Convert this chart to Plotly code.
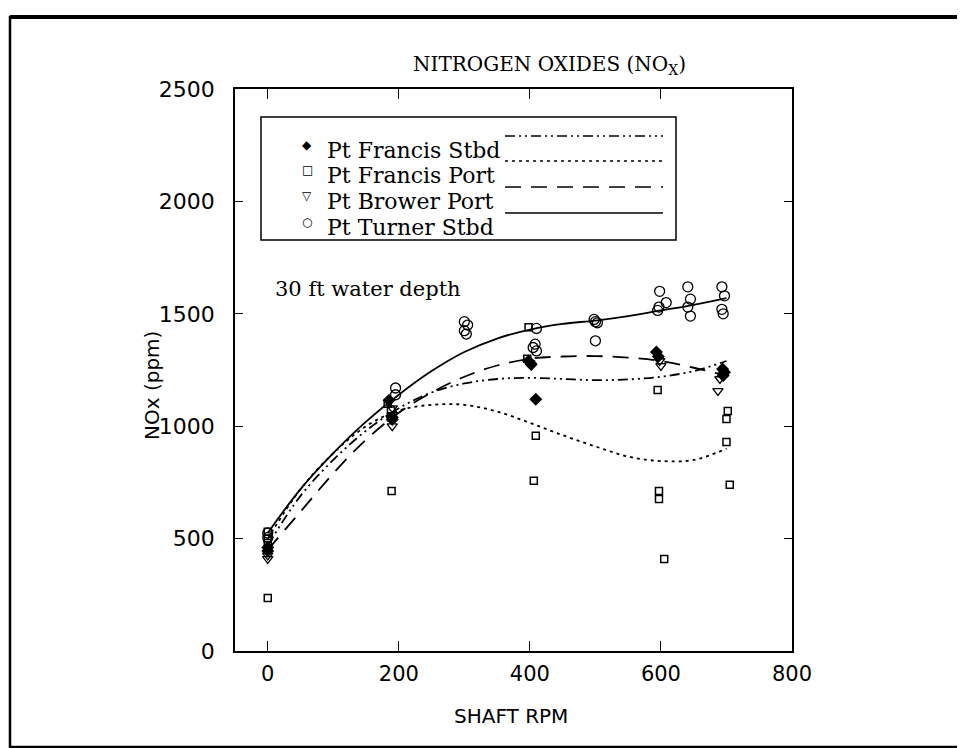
import plotly.graph_objects as go

# Pt Turner Stbd (open circles)
turner_rpm = [0, 0, 195, 195, 300, 305, 300, 303, 410, 408, 405, 410,
              498, 500, 503, 500, 595, 597, 598, 608, 641, 645, 641, 645,
              693, 697, 693, 695]
turner_nox = [525, 505, 1170, 1140, 1465, 1450, 1425, 1410, 1435, 1365, 1350, 1335,
              1475, 1465, 1460, 1380, 1515, 1530, 1600, 1550, 1620, 1565, 1530, 1490,
              1620, 1580, 1520, 1500]

# Pt Francis Stbd (filled diamonds)
fstbd_rpm = [0, 0, 185, 190, 190, 398, 402, 409, 593, 596, 694, 697, 695]
fstbd_nox = [460, 445, 1115, 1040, 1030, 1290, 1275, 1120, 1330, 1310, 1255, 1240, 1225]

# Pt Francis Port (open squares)
fport_rpm = [0, 0, 0, 0, 183, 188, 188, 189, 398, 396, 409, 406,
             595, 597, 597, 605, 702, 700, 700, 705]
fport_nox = [530, 500, 480, 236, 1100, 1070, 1040, 712, 1440, 1300, 957, 757,
             1161, 712, 676, 409, 1068, 1032, 930, 739]

# Pt Brower Port (open down triangles)
brower_rpm = [0, 0, 190, 190, 190, 400, 402, 600, 598, 690, 687]
brower_nox = [410, 425, 1080, 1050, 1000, 1280, 1270, 1268, 1290, 1210, 1157]

# fitted curves
curve_rpm = [0, 50, 100, 150, 200, 250, 300, 350, 400, 450, 500, 550, 600, 650, 700]
turner_fit = [525, 720, 880, 1020, 1140, 1245, 1330, 1390, 1430, 1455, 1470, 1490, 1515, 1540, 1570]
fstbd_fit = [470, 690, 850, 980, 1080, 1150, 1190, 1210, 1215, 1210, 1205, 1208, 1220, 1245, 1290]
fport_fit = [500, 720, 880, 1000, 1070, 1095, 1095, 1065, 1015, 960, 910, 865, 845, 850, 900]
brower_fit = [450, 620, 790, 940, 1060, 1150, 1220, 1270, 1300, 1310, 1312, 1305, 1290, 1260, 1225]

legend_names = ['Pt Francis Stbd', 'Pt Francis Port', 'Pt Brower Port', 'Pt Turner Stbd']
legend_glyphs = ['\u25c6', '\u25a1', '\u25bd', '\u25cb']
legend_dashes = ['10px,4px,2px,4px,2px,4px', '3px,4px', '16px,10px', 'solid']

serif = 'DejaVu Serif'
sans = 'DejaVu Sans'

fig = go.Figure()

fits = [fstbd_fit, fport_fit, brower_fit, turner_fit]
for fit, dash in zip(fits, legend_dashes):
    fig.add_trace(go.Scatter(x=curve_rpm, y=fit, mode='lines', line_shape='spline',
                             line=dict(color='black', width=1.8, dash=dash),
                             showlegend=False, hoverinfo='skip'))

fig.add_trace(go.Scatter(x=fport_rpm, y=fport_nox, mode='markers', showlegend=False,
                         marker=dict(symbol='square-open', size=7, color='black',
                                     line=dict(width=1.5))))
fig.add_trace(go.Scatter(x=brower_rpm, y=brower_nox, mode='markers', showlegend=False,
                         marker=dict(symbol='triangle-down-open', size=9, color='black',
                                     line=dict(width=1.3))))
fig.add_trace(go.Scatter(x=turner_rpm, y=turner_nox, mode='markers', showlegend=False,
                         marker=dict(symbol='circle-open', size=10, color='black',
                                     line=dict(width=1.3))))
fig.add_trace(go.Scatter(x=fstbd_rpm, y=fstbd_nox, mode='markers', showlegend=False,
                         marker=dict(symbol='diamond', size=10, color='black')))

# plot area in pixels: x 227..784, y 81..643
L, R, T, B = 227, 784, 81, 643


def px(x):
    return (x - L) / (R - L)


def py(y):
    return (B - y) / (B - T)


shapes = []
# outer border of the figure, heavier along the top
shapes.append(dict(type='rect', xref='paper', yref='paper',
                   x0=px(2), x1=px(960), y0=py(739), y1=py(9),
                   line=dict(color='black', width=2.5)))
shapes.append(dict(type='line', xref='paper', yref='paper',
                   x0=px(2), x1=px(960), y0=py(9), y1=py(9),
                   line=dict(color='black', width=4)))
# legend box
shapes.append(dict(type='rect', xref='paper', yref='paper',
                   x0=px(253), x1=px(668), y0=py(232), y1=py(109),
                   line=dict(color='black', width=1.5), fillcolor='white', layer='above'))

annotations = []
rows = [128, 153, 179, 205]
for name, glyph, dash, yy in zip(legend_names, legend_glyphs, legend_dashes, rows):
    annotations.append(dict(x=px(292), y=py(yy), xref='paper', yref='paper', text=glyph,
                            showarrow=False, font=dict(family=sans, size=12, color='black')))
    annotations.append(dict(x=px(317), y=py(yy), xref='paper', yref='paper', text=name,
                            xanchor='left', showarrow=False,
                            font=dict(family=serif, size=22, color='black')))
    shapes.append(dict(type='line', xref='paper', yref='paper',
                       x0=px(497), x1=px(655), y0=py(yy), y1=py(yy),
                       line=dict(color='black', width=1.5, dash=dash), layer='above'))

annotations.append(dict(x=px(541), y=py(42), xref='paper', yref='paper',
                        text='NITROGEN OXIDES (NO<sub>X</sub>)', showarrow=False,
                        font=dict(family=serif, size=20, color='black')))
annotations.append(dict(x=px(265), y=py(267), xref='paper', yref='paper',
                        text='30 ft water depth', xanchor='left', showarrow=False,
                        font=dict(family=serif, size=21, color='black')))
annotations.append(dict(x=px(130), y=py(378), xref='paper', yref='paper',
                        text='NOx (ppm)', textangle=-90, showarrow=False,
                        font=dict(family=sans, size=20, color='black')))
annotations.append(dict(x=px(503), y=py(722), xref='paper', yref='paper',
                        text='SHAFT RPM', showarrow=False,
                        font=dict(family=sans, size=20, color='black')))

fig.update_layout(
    width=965, height=748,
    margin=dict(l=L, r=965 - R, t=T, b=748 - B),
    paper_bgcolor='white', plot_bgcolor='white',
    shapes=shapes, annotations=annotations,
    xaxis=dict(range=[-50, 800], tickvals=[0, 200, 400, 600, 800],
               ticks='inside', ticklen=10, tickwidth=1.3, tickcolor='black',
               showline=True, linecolor='black', linewidth=1.5, mirror='ticks',
               showgrid=False, zeroline=False, ticklabelstandoff=3,
               tickfont=dict(family=sans, size=21, color='black')),
    yaxis=dict(range=[0, 2500], tickvals=[0, 500, 1000, 1500, 2000, 2500],
               ticks='inside', ticklen=8, tickwidth=1.3, tickcolor='black',
               showline=True, linecolor='black', linewidth=1.5, mirror='ticks',
               showgrid=False, zeroline=False, ticklabelstandoff=14,
               tickfont=dict(family=sans, size=22, color='black')),
)

fig.write_html('out.html')
